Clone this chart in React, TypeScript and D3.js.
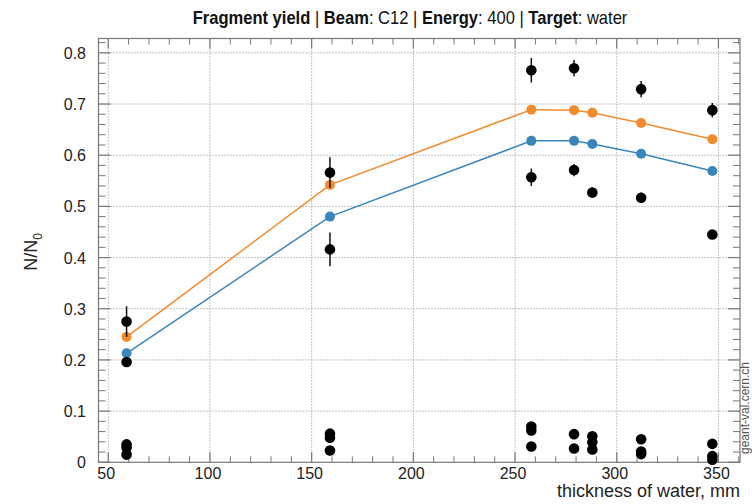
import React from "react";
import * as d3 from "d3";

const thickness = [59, 159, 258, 279, 288, 312, 347];
const modelOrange = [0.245, 0.542, 0.689, 0.688, 0.683, 0.663, 0.631];
const modelBlue = [0.213, 0.48, 0.628, 0.628, 0.622, 0.603, 0.569];

const expX = [
  59, 59, 59, 59, 59,
  159, 159, 159, 159, 159,
  258, 258, 258, 258, 258,
  279, 279, 279, 279,
  288, 288, 288, 288,
  312, 312, 312, 312, 312,
  347, 347, 347, 347, 347,
];
const expY = [
  0.275, 0.196, 0.035, 0.029, 0.015,
  0.566, 0.416, 0.056, 0.048, 0.023,
  0.766, 0.557, 0.07, 0.062, 0.031,
  0.77, 0.571, 0.055, 0.027,
  0.527, 0.051, 0.039, 0.025,
  0.729, 0.517, 0.045, 0.021, 0.016,
  0.688, 0.445, 0.036, 0.012, 0.005,
];
const expErr = [
  0.03, 0.005, 0.01, 0.005, 0.003,
  0.03, 0.033, 0.008, 0.005, 0.003,
  0.024, 0.017, 0.009, 0.006, 0.003,
  0.016, 0.012, 0.003, 0.002,
  0.01, 0.003, 0.003, 0.002,
  0.016, 0.01, 0.003, 0.002, 0.002,
  0.014, 0.003, 0.002, 0.002, 0.002,
];

const xTicks = [50, 100, 150, 200, 250, 300, 350];
const yTicks = [0, 0.1, 0.2, 0.3, 0.4, 0.5, 0.6, 0.7, 0.8];

const W = 752;
const H = 504;
const L = 98.5;
const R = 740;
const T = 38.5;
const B = 462.3;

export default function App() {
  const x = d3.scaleLinear().domain([45.2, 360.6]).range([L, R]);
  const y = d3.scaleLinear().domain([0, 0.828]).range([B, T]);
  const line = d3
    .line<number>()
    .x((_, i) => x(thickness[i]))
    .y((d) => y(d));

  const xMinor = d3.range(50, 361, 10).filter((v) => v % 50 !== 0);
  const yMinor = d3.range(0, 0.83, 0.02).filter((v) => Math.abs(v * 10 - Math.round(v * 10)) > 1e-6);

  const font = "'Liberation Sans', Arial, sans-serif";
  const axisCol = "#777";

  return (
    <svg
      width={W}
      height={H}
      style={{ position: "absolute", left: 0, top: 0, background: "#fff" }}
      fontFamily={font}
    >
      {/* grid */}
      {xTicks.map((t) => (
        <line key={"gx" + t} x1={x(t)} x2={x(t)} y1={T} y2={B} stroke="#888" strokeWidth={1} strokeDasharray="1,2" />
      ))}
      {yTicks.slice(1).map((t) => (
        <line key={"gy" + t} x1={L} x2={R} y1={y(t)} y2={y(t)} stroke="#888" strokeWidth={1} strokeDasharray="1,2" />
      ))}
      {/* frame */}
      <rect x={L} y={T} width={R - L} height={B - T} fill="none" stroke={axisCol} strokeWidth={1.2} />
      {/* x ticks */}
      {xTicks.map((t) => (
        <g key={"xt" + t}>
          <line x1={x(t)} x2={x(t)} y1={B} y2={B - 10} stroke={axisCol} strokeWidth={1.2} />
          <line x1={x(t)} x2={x(t)} y1={T} y2={T + 10} stroke={axisCol} strokeWidth={1.2} />
          <text x={x(t) - 2} y={B + 17} textAnchor="middle" fontSize={16} fill="#222">
            {t}
          </text>
        </g>
      ))}
      {xMinor.map((t) => (
        <g key={"xm" + t}>
          <line x1={x(t)} x2={x(t)} y1={B} y2={B - 6} stroke={axisCol} strokeWidth={1} />
          <line x1={x(t)} x2={x(t)} y1={T} y2={T + 6} stroke={axisCol} strokeWidth={1} />
        </g>
      ))}
      {/* y ticks */}
      {yTicks.map((t) => (
        <g key={"yt" + t}>
          <line x1={L} x2={L + 12} y1={y(t)} y2={y(t)} stroke={axisCol} strokeWidth={1.2} />
          <line x1={R} x2={R - 12} y1={y(t)} y2={y(t)} stroke={axisCol} strokeWidth={1.2} />
          <text x={86} y={y(t) + 6} textAnchor="end" fontSize={16} fill="#222">
            {t === 0 ? "0" : t.toFixed(1)}
          </text>
        </g>
      ))}
      {yMinor.map((t) => (
        <g key={"ym" + t}>
          <line x1={L} x2={L + 7} y1={y(t)} y2={y(t)} stroke={axisCol} strokeWidth={1} />
          <line x1={R} x2={R - 7} y1={y(t)} y2={y(t)} stroke={axisCol} strokeWidth={1} />
        </g>
      ))}
      {/* model lines */}
      <path d={line(modelOrange) || ""} fill="none" stroke="#f28a2e" strokeWidth={1.5} />
      <path d={line(modelBlue) || ""} fill="none" stroke="#3a86bb" strokeWidth={1.5} />
      {modelOrange.map((v, i) => (
        <circle key={"mo" + i} cx={x(thickness[i])} cy={y(v)} r={5} fill="#f28a2e" />
      ))}
      {modelBlue.map((v, i) => (
        <circle key={"mb" + i} cx={x(thickness[i])} cy={y(v)} r={5} fill="#3a86bb" />
      ))}
      {/* experimental points */}
      {expY.map((v, i) => (
        <g key={"e" + i}>
          <line
            x1={x(expX[i])}
            x2={x(expX[i])}
            y1={y(v - expErr[i])}
            y2={y(v + expErr[i])}
            stroke="#111"
            strokeWidth={1.5}
          />
          <circle cx={x(expX[i])} cy={y(v)} r={5.3} fill="#000" />
        </g>
      ))}
      {/* title */}
      <g transform={`translate(410,24) scale(0.92,1)`}>
        <text textAnchor="middle" fontSize={18} fill="#111">
          <tspan fontWeight="bold">Fragment yield</tspan>
          <tspan> | </tspan>
          <tspan fontWeight="bold">Beam</tspan>
          <tspan>: C12 | </tspan>
          <tspan fontWeight="bold">Energy</tspan>
          <tspan>: 400 | </tspan>
          <tspan fontWeight="bold">Target</tspan>
          <tspan>: water</tspan>
        </text>
      </g>
      {/* axis titles */}
      <text x={740} y={497} textAnchor="end" fontSize={18} fill="#222">
        thickness of water, mm
      </text>
      <text transform="translate(37,252) rotate(-90)" textAnchor="middle" fontSize={18} fill="#222">
        N/N<tspan fontSize={12} dy={5}>0</tspan>
      </text>
      <text transform="translate(749,408) rotate(-90)" textAnchor="middle" fontSize={12} fill="#555">
        geant-val.cern.ch
      </text>
    </svg>
  );
}
